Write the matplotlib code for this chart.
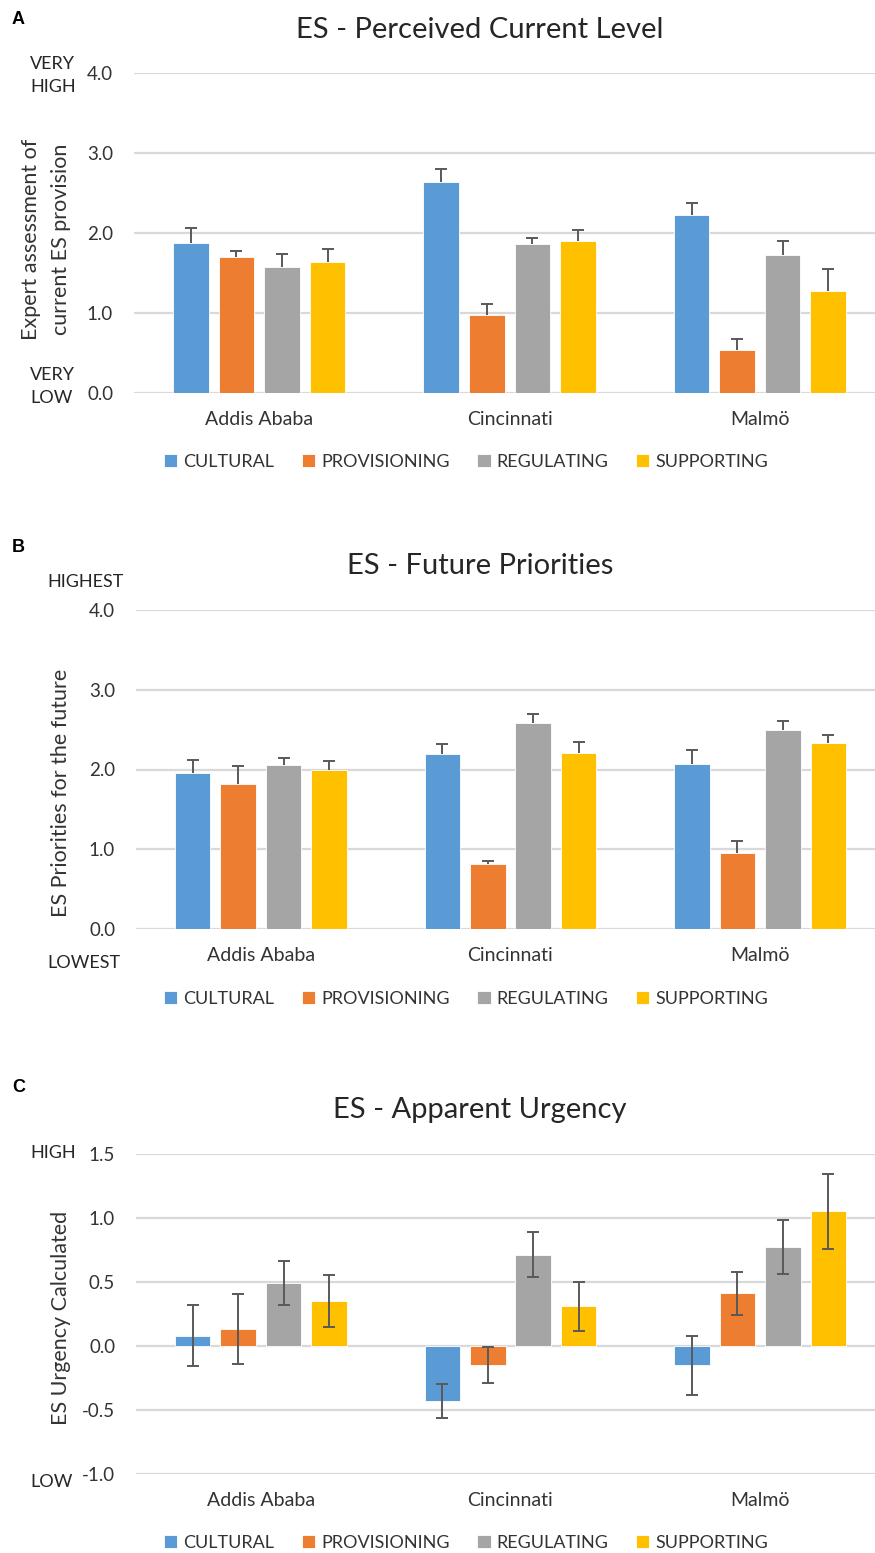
import numpy as np
import matplotlib
matplotlib.use("Agg")
from matplotlib import pyplot as plt

plt.rcParams['font.family'] = ['Lato', 'DejaVu Sans']

cities = ["Addis Ababa", "Cincinnati", "Malmö"]
services = ["CULTURAL", "PROVISIONING", "REGULATING", "SUPPORTING"]
colors = ["#5B9BD5", "#ED7D31", "#A5A5A5", "#FFC000"]

# A - perceived current level (rows = services, cols = cities)
current_vals = [[1.88, 2.64, 2.22],
                [1.70, 0.97, 0.54],
                [1.58, 1.86, 1.72],
                [1.64, 1.90, 1.28]]
current_err = [[0.18, 0.16, 0.15],
               [0.08, 0.14, 0.13],
               [0.16, 0.08, 0.18],
               [0.16, 0.14, 0.27]]

# B - future priorities
future_vals = [[1.96, 2.20, 2.07],
               [1.82, 0.82, 0.95],
               [2.06, 2.58, 2.50],
               [1.99, 2.21, 2.33]]
future_err = [[0.16, 0.12, 0.17],
              [0.23, 0.04, 0.16],
              [0.09, 0.12, 0.11],
              [0.12, 0.14, 0.10]]

# C - apparent urgency
urgency_vals = [[0.08, -0.43, -0.15],
                [0.13, -0.15, 0.41],
                [0.49, 0.71, 0.77],
                [0.35, 0.31, 1.05]]
urgency_err = [[0.24, 0.135, 0.23],
               [0.275, 0.14, 0.17],
               [0.17, 0.175, 0.21],
               [0.20, 0.19, 0.29]]

W, H = 875, 1553
fig = plt.figure(figsize=(W / 100, H / 100), dpi=100)
txt = "#333333"


def panel(left, top_px, bottom_px, ymin, ymax, ticks, vals, err, upper_only,
          title, title_y, letter, letter_y, legend_y):
    ax = fig.add_axes([left / W, 1 - bottom_px / H, (875 - left) / W,
                       (bottom_px - top_px) / H])
    x = np.arange(len(cities))
    pitch, width = 0.182, 0.142
    for i, s in enumerate(services):
        v = np.array(vals[i])
        e = np.array(err[i])
        pos = x + (i - 1.5) * pitch
        yerr = [np.zeros_like(e), e] if upper_only else e
        ax.bar(pos, v, width, color=colors[i], label=s, zorder=2,
               edgecolor="white", linewidth=0.6)
        eb = ax.errorbar(pos, v, yerr=yerr, fmt="none", ecolor="#595959",
                         elinewidth=1.4, capsize=4.5, capthick=1.4, zorder=3)
        if upper_only:
            # hide the cap sitting on top of the bar
            eb[1][0].set_visible(False)
    ax.set_xlim(-0.5, 2.46)
    ax.set_ylim(ymin, ymax)
    ax.set_yticks(ticks)
    ax.set_yticklabels([f"{t:.1f}" for t in ticks], fontsize=13.5, color=txt)
    ax.set_xticks(x)
    ax.set_xticklabels(cities, fontsize=14, color=txt)
    ax.tick_params(axis="both", length=0)
    ax.tick_params(axis="y", pad=15)
    ax.tick_params(axis="x", pad=13)
    ax.yaxis.grid(True, color="#D9D9D9", linewidth=1.6, zorder=0)
    ax.set_axisbelow(True)
    for sp in ax.spines.values():
        sp.set_visible(False)
    ax.patch.set_alpha(0)
    fig.text(480 / W, 1 - title_y / H, title, fontsize=21, color="#262626",
             ha="center", va="center")
    fig.text(12 / W, 1 - letter_y / H, letter, fontsize=13, fontweight="bold",
             family="Liberation Sans", color="black", ha="left", va="center")
    ax.legend(loc="center", bbox_to_anchor=(466 / W, 1 - legend_y / H),
              bbox_transform=fig.transFigure, ncol=4, frameon=False,
              fontsize=13, handlelength=0.75, handleheight=0.75,
              handletextpad=0.35, columnspacing=1.5, labelcolor=txt)
    return ax


panel(134, 73, 393, 0, 4.0, [0, 1, 2, 3, 4], current_vals, current_err, True,
      "ES - Perceived Current Level", 30, "A", 20, 462)
fig.text(31 / W, 1 - 239 / H, "Expert assessment of", rotation=90,
         fontsize=15.5, color=txt, ha="center", va="center")
fig.text(61 / W, 1 - 239 / H, "current ES provision", rotation=90,
         fontsize=15.5, color=txt, ha="center", va="center")
fig.text(30 / W, 1 - 75.5 / H, "VERY\nHIGH", fontsize=13, color="#262626",
         ha="left", va="center", linespacing=1.55)
fig.text(30 / W, 1 - 386.5 / H, "VERY\nLOW", fontsize=13, color="#262626",
         ha="left", va="center", linespacing=1.55)

panel(136, 609.7, 929.3, 0, 4.0, [0, 1, 2, 3, 4], future_vals, future_err, True,
      "ES - Future Priorities", 566, "B", 547, 999)
fig.text(61 / W, 1 - 793 / H, "ES Priorities for the future", rotation=90,
         fontsize=15.5, color=txt, ha="center", va="center")
fig.text(47 / W, 1 - 582 / H, "HIGHEST", fontsize=13, color="#262626",
         ha="left", va="center")
fig.text(47 / W, 1 - 963 / H, "LOWEST", fontsize=13, color="#262626",
         ha="left", va="center")

panel(136, 1153.7, 1474, -1.0, 1.5, [-1.0, -0.5, 0, 0.5, 1.0, 1.5],
      urgency_vals, urgency_err, False,
      "ES - Apparent Urgency", 1110, "C", 1088, 1543)
fig.text(61 / W, 1 - 1318 / H, "ES Urgency Calculated", rotation=90,
         fontsize=15.5, color=txt, ha="center", va="center")
fig.text(30 / W, 1 - 1153 / H, "HIGH", fontsize=13, color="#262626",
         ha="left", va="center")
fig.text(30 / W, 1 - 1482 / H, "LOW", fontsize=13, color="#262626",
         ha="left", va="center")

fig.savefig("out.png", dpi=100)
